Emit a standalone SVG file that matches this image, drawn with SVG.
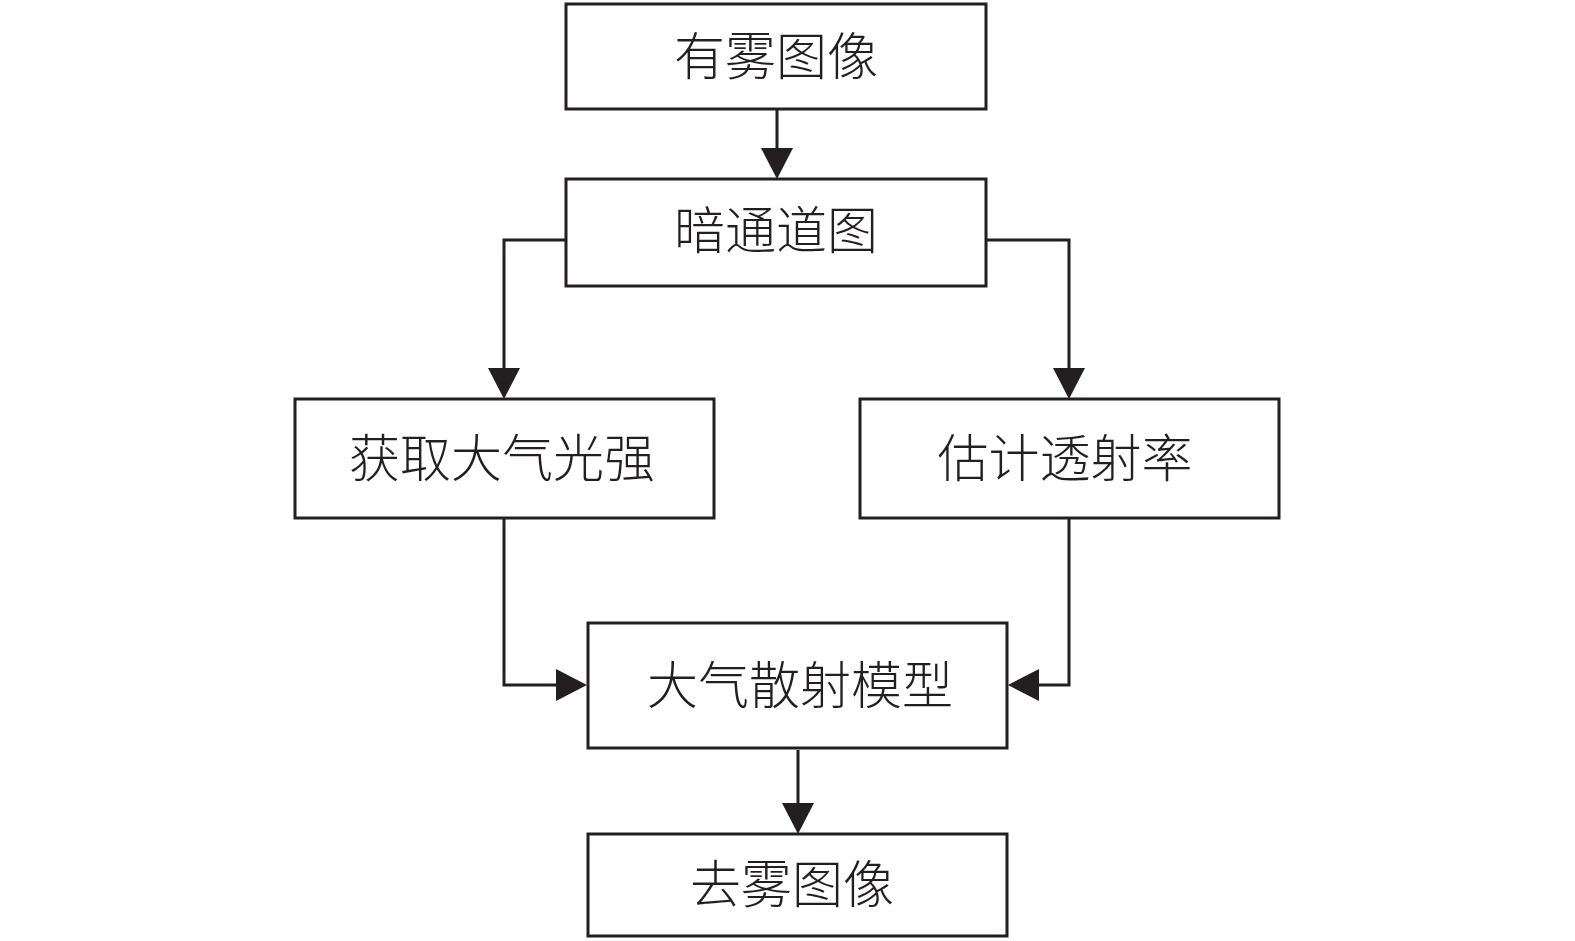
<svg xmlns="http://www.w3.org/2000/svg" width="1575" height="941" viewBox="0 0 1575 941">
<style>
.box{fill:#fff;stroke:#231f20;stroke-width:3}
.lbl{font-family:"Noto Sans CJK SC","Noto Sans CJK JP",sans-serif;font-size:51px;font-weight:300;fill:#231f20;text-anchor:middle;dominant-baseline:central}
.con{fill:none;stroke:#231f20;stroke-width:3}
</style>
<defs>
<marker id="arr" viewBox="0 0 31 32" refX="10" refY="16" markerWidth="31" markerHeight="32" markerUnits="userSpaceOnUse" orient="auto">
<path d="M0,0 L31,16 L0,32 Z" fill="#231f20"/>
</marker>
</defs>
<rect width="1575" height="941" fill="#fff"/>
<g id="connectors">
<path class="con" d="M777,109 L777,158" marker-end="url(#arr)"/>
<path class="con" d="M566,240 L504,240 L504,378" marker-end="url(#arr)"/>
<path class="con" d="M986,240 L1069,240 L1069,378" marker-end="url(#arr)"/>
<path class="con" d="M504,518 L504,685 L566,685" marker-end="url(#arr)"/>
<path class="con" d="M1069,518 L1069,685 L1029,685" marker-end="url(#arr)"/>
<path class="con" d="M798,750 L798,813" marker-end="url(#arr)"/>
</g>
<g id="n1"><rect class="box" x="566" y="4" width="420" height="105"/><text class="lbl" x="776" y="53">有雾图像</text></g>
<g id="n2"><rect class="box" x="566" y="179" width="420" height="107"/><text class="lbl" x="776" y="227">暗通道图</text></g>
<g id="n3"><rect class="box" x="295" y="399" width="419" height="119"/><text class="lbl" x="502" y="455">获取大气光强</text></g>
<g id="n4"><rect class="box" x="860" y="399" width="419" height="119"/><text class="lbl" x="1065" y="455">估计透射率</text></g>
<g id="n5"><rect class="box" x="588" y="623" width="419" height="125"/><text class="lbl" x="800" y="682">大气散射模型</text></g>
<g id="n6"><rect class="box" x="588" y="834" width="419" height="102"/><text class="lbl" x="792" y="881">去雾图像</text></g>
</svg>
